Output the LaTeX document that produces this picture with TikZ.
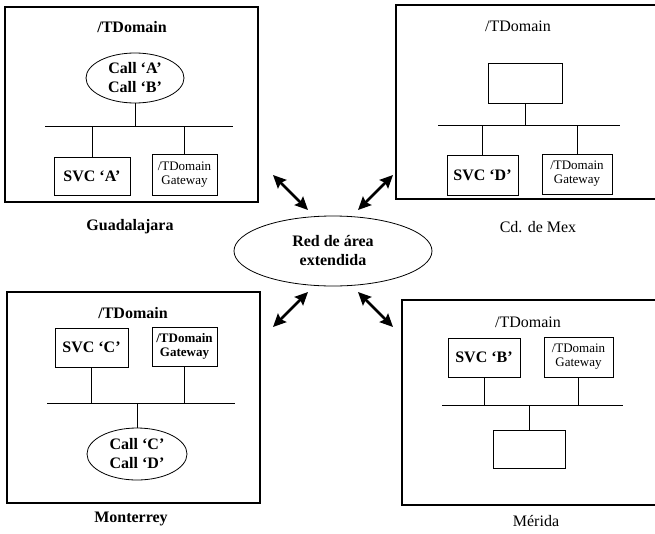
\documentclass[tikz,border=0pt]{standalone}
\usepackage{fontspec}
\setmainfont{Liberation Serif}
\usetikzlibrary{arrows.meta,shapes.geometric}

\begin{document}
\begin{tikzpicture}[x=1pt,y=-1pt,
  mysite/.style={draw,line width=1.1pt,inner sep=0pt},
  mybox/.style={draw,line width=0.8pt,inner sep=0pt,align=center,font=\fontsize{16}{18}\selectfont\bfseries},
  mygw/.style={draw,line width=0.8pt,inner sep=0pt,align=center,font=\fontsize{13}{14}\selectfont},
  myell/.style={ellipse,draw,line width=0.8pt,inner sep=0pt,align=center,font=\fontsize{16}{19}\selectfont\bfseries},
  mytext/.style={font=\fontsize{16}{18}\selectfont},
  mybold/.style={font=\fontsize{16}{18}\selectfont\bfseries},
  mybus/.style={line width=0.9pt},
  mylink/.style={line width=0.6pt},
  myarrow/.style={line width=2.6pt,{Stealth[length=13pt,width=12pt,inset=2pt]}-{Stealth[length=13pt,width=12pt,inset=2pt]}}]
\useasboundingbox (0,0) rectangle (655,533);
\clip (0,0) rectangle (655,533);
% Guadalajara
\node [mysite,minimum width=253pt,minimum height=195pt] (gdl) at (131.5,104.5) {};
\node [mybold] (gdltitle) at (132,27) {/TDomain};
\node [myell,minimum width=98pt,minimum height=50pt] (gdlcall) at (135,78) {Call `A'\\Call `B'};
\node [mybox,minimum width=76pt,minimum height=38pt] (gdlsvc) at (92,176) {SVC `A'};
\node [mygw,minimum width=65pt,minimum height=41pt] (gdlgw) at (184.5,174.5) {/TDomain\\Gateway};
\coordinate (gdlbusA) at (45,126);
\coordinate (gdlbusB) at (233,126);
\draw [mybus] (gdlbusA) -- (gdlbusB);
\draw [mylink] (gdlcall) -- (gdlcall |- gdlbusA);
\draw [mylink] (gdlsvc) -- (gdlsvc |- gdlbusA);
\draw [mylink] (gdlgw) -- (gdlgw |- gdlbusA);
\node [mybold] (gdlname) at (130,227) {Guadalajara};
% Cd. de Mex
\node [mysite,minimum width=304pt,minimum height=194pt] (mex) at (548,102) {};
\node [mytext] (mextitle) at (518,26) {/TDomain};
\node [mybox,minimum width=74pt,minimum height=40pt] (mexcall) at (525,83) {};
\node [mybox,minimum width=71pt,minimum height=40pt] (mexsvc) at (482.5,175) {SVC `D'};
\node [mygw,minimum width=70pt,minimum height=40pt] (mexgw) at (577,174) {/TDomain\\Gateway};
\coordinate (mexbusA) at (438,125);
\coordinate (mexbusB) at (620,125);
\draw [mybus] (mexbusA) -- (mexbusB);
\draw [mylink] (mexcall) -- (mexcall |- mexbusA);
\draw [mylink] (mexsvc) -- (mexsvc |- mexbusA);
\draw [mylink] (mexgw) -- (mexgw |- mexbusA);
\node [mytext] (mexname) at (538,227) {Cd. de Mex};
% Monterrey
\node [mysite,minimum width=253pt,minimum height=211pt] (mty) at (133.5,397.5) {};
\node [mybold] (mtytitle) at (133,313) {/TDomain};
\node [mybox,minimum width=73pt,minimum height=39pt] (mtysvc) at (91.5,347.5) {SVC `C'};
\node [mygw,font=\fontsize{13}{14}\selectfont\bfseries,minimum width=65pt,minimum height=39pt] (mtygw) at (184.5,346.5) {/TDomain\\Gateway};
\node [myell,minimum width=100pt,minimum height=52pt] (mtycall) at (137,454) {Call `C'\\Call `D'};
\coordinate (mtybusA) at (47,403);
\coordinate (mtybusB) at (235,403);
\draw [mybus] (mtybusA) -- (mtybusB);
\draw [mylink] (mtysvc) -- (mtysvc |- mtybusA);
\draw [mylink] (mtygw) -- (mtygw |- mtybusA);
\draw [mylink] (mtycall) -- (mtycall |- mtybusA);
\node [mybold] (mtyname) at (131,519) {Monterrey};
% Merida
\node [mysite,minimum width=298pt,minimum height=205pt] (mer) at (551,402.5) {};
\node [mytext] (mertitle) at (528,322) {/TDomain};
\node [mybox,minimum width=72pt,minimum height=39pt] (mersvc) at (484,357.5) {SVC `B'};
\node [mygw,minimum width=69pt,minimum height=40pt] (mergw) at (578.5,357) {/TDomain\\Gateway};
\node [mybox,minimum width=72pt,minimum height=38pt] (mercall) at (529,449) {};
\coordinate (merbusA) at (442,405);
\coordinate (merbusB) at (623,405);
\draw [mybus] (merbusA) -- (merbusB);
\draw [mylink] (mersvc) -- (mersvc |- merbusA);
\draw [mylink] (mergw) -- (mergw |- merbusA);
\draw [mylink] (mercall) -- (mercall |- merbusA);
\node [mytext] (mername) at (536,521) {Mérida};
% red de area extendida
\node [myell,minimum width=198pt,minimum height=70pt] (wan) at (333,251) {Red de área\\extendida};
\coordinate (gdl-arr) at (273,175);
\coordinate (gdl-wan) at (308,210);
\coordinate (mex-arr) at (393,175);
\coordinate (mex-wan) at (358,210);
\coordinate (mty-arr) at (273,327);
\coordinate (mty-wan) at (308,292);
\coordinate (mer-arr) at (393,327);
\coordinate (mer-wan) at (358,292);
\foreach \site in {gdl,mex,mty,mer}
  {\draw [myarrow] (\site-arr) -- (\site-wan);}
\end{tikzpicture}
\end{document}
